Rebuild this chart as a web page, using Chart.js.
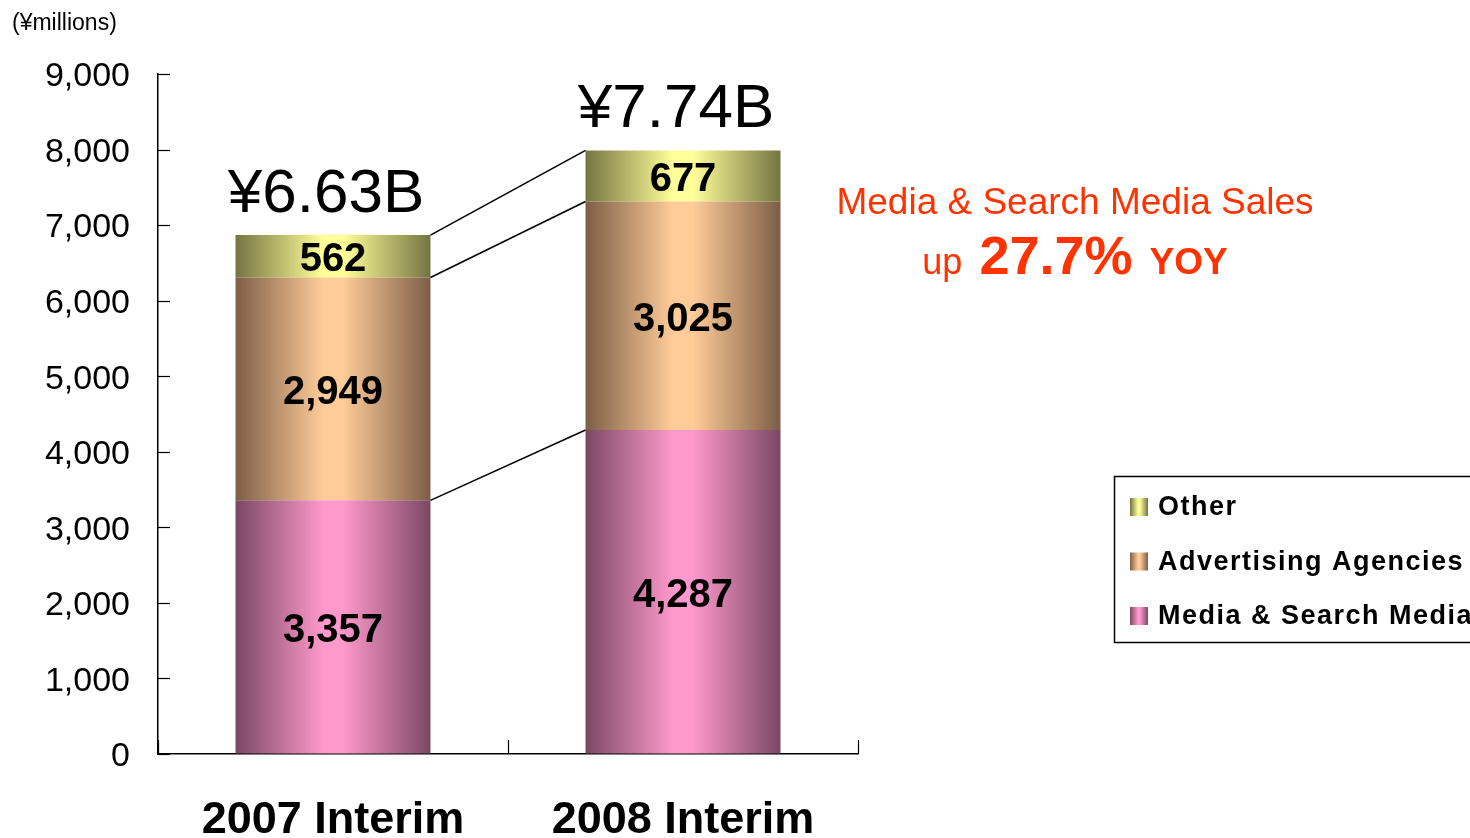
<!DOCTYPE html>
<html>
<head>
<meta charset="utf-8">
<title>Media & Search Media Sales</title>
<script src="https://cdn.jsdelivr.net/npm/chart.js@4.4.0/dist/chart.umd.min.js"></script>
<style>
  html, body { margin: 0; padding: 0; background: #fff; overflow: hidden; }
</style>
</head>
<body>
<canvas id="chart-sales" width="1470" height="838"></canvas>
<script>
// chart data
const categories = ["2007 Interim", "2008 Interim"];
const mediaSearch = [3357, 4287];
const adAgencies = [2949, 3025];
const otherSales = [562, 677];
const totalLabels = ["¥6.63B", "¥7.74B"];
const seriesNames = ["Media & Search Media", "Advertising Agencies", "Other"];
const yMax = 9000;
const yStep = 1000;
const unitLabel = "(¥millions)";
const noteLine1 = "Media & Search Media Sales";
const noteLine2 = ["up", "27.7%", "YOY"];

const BAR_PCT = 0.557;
const FONT = '"Liberation Sans", Arial, sans-serif';

// dark edge / light middle, like the original's cylinder shading
const shades = [
    { dark: "#7a4862", light: "#ff99cc" },
    { dark: "#7c5e46", light: "#ffcc99" },
    { dark: "#747443", light: "#ffff99" },
];

function makeGradient(c, x0, x1, shade) {
    const g = c.createLinearGradient(x0, 0, x1, 0);
    g.addColorStop(0, shade.dark);
    g.addColorStop(0.45, shade.light);
    g.addColorStop(0.55, shade.light);
    g.addColorStop(1, shade.dark);
    return g;
}

function barFill(idx) {
    return function (ctx) {
        const chart = ctx.chart;
        const xs = chart.scales.x;
        if (!xs || !chart.chartArea || ctx.dataIndex === undefined) {
            return shades[idx].light;
        }
        const cx = xs.getPixelForValue(ctx.dataIndex);
        const w = (xs.width / chart.data.labels.length) * BAR_PCT;
        return makeGradient(chart.ctx, cx - w / 2, cx + w / 2, shades[idx]);
    };
}

const extrasPlugin = {
    id: "extras",
    afterDatasetsDraw(chart) {
        const c = chart.ctx;
        const area = chart.chartArea;
        const xs = chart.scales.x;
        const ys = chart.scales.y;
        c.save();

        // inward tick marks
        c.strokeStyle = "#000";
        c.lineWidth = 1.2;
        ys.ticks.forEach(t => {
            const y = Math.round(ys.getPixelForValue(t.value)) + 0.5;
            c.beginPath();
            c.moveTo(area.left, y);
            c.lineTo(area.left + 12, y);
            c.stroke();
        });
        const n = chart.data.labels.length;
        for (let i = 0; i <= n; i++) {
            const x = Math.round(xs.left + (xs.width / n) * i) + 0.5;
            c.beginPath();
            c.moveTo(x, area.bottom);
            c.lineTo(x, area.bottom - 14);
            c.stroke();
        }

        // connector lines between the two stacks
        const metas = chart.data.datasets.map((d, i) => chart.getDatasetMeta(i));
        c.lineWidth = 1.6;
        metas.forEach(meta => {
            const a = meta.data[0], b = meta.data[1];
            c.beginPath();
            c.moveTo(a.x + a.width / 2, a.y);
            c.lineTo(b.x - b.width / 2, b.y);
            c.stroke();
        });

        // value labels inside segments
        c.fillStyle = "#000";
        c.textAlign = "center";
        c.textBaseline = "middle";
        c.font = "bold 40px " + FONT;
        metas.forEach((meta, di) => {
            meta.data.forEach((el, i) => {
                const v = chart.data.datasets[di].data[i];
                c.fillText(v.toLocaleString("en-US"), el.x, (el.y + el.base) / 2 + 4);
            });
        });

        // totals above stacks
        const top = metas[metas.length - 1];
        c.textBaseline = "alphabetic";
        c.font = "62px " + FONT;
        top.data.forEach((el, i) => {
            c.fillText(totalLabels[i], el.x - 7, el.y - 23);
        });

        // unit label
        c.textAlign = "left";
        c.font = "23px " + FONT;
        c.fillText(unitLabel, 12, 30);

        // red note
        c.fillStyle = "#ff3300";
        c.textAlign = "center";
        c.font = "37px " + FONT;
        c.fillText(noteLine1, 1075, 214);
        const parts = [
            { t: noteLine2[0], f: "36px " + FONT },
            { t: noteLine2[1], f: "bold 54px " + FONT },
            { t: noteLine2[2], f: "bold 37px " + FONT },
        ];
        const gap = 17;
        let total = 0;
        parts.forEach(p => { c.font = p.f; p.w = c.measureText(p.t).width; total += p.w; });
        total += gap * (parts.length - 1);
        let x = 1075 - total / 2;
        c.textAlign = "left";
        parts.forEach(p => {
            c.font = p.f;
            c.fillText(p.t, x, 274);
            x += p.w + gap;
        });

        // legend (top row = last dataset)
        c.strokeStyle = "#000";
        c.lineWidth = 1.5;
        c.strokeRect(1114.5, 476.5, 400, 166);
        c.fillStyle = "#000";
        c.font = "bold 27px " + FONT;
        c.letterSpacing = "1.5px";
        c.textBaseline = "middle";
        const ds = chart.data.datasets;
        for (let k = 0; k < ds.length; k++) {
            const di = ds.length - 1 - k;
            const cy = 507 + k * 54.5;
            c.fillStyle = makeGradient(c, 1130, 1148, shades[di]);
            c.fillRect(1130, cy - 9, 18, 18);
            c.fillStyle = "#000";
            c.fillText(ds[di].label, 1158, cy + 1);
        }
        c.restore();
    }
};

const ctx = document.getElementById("chart-sales").getContext("2d");
new Chart(ctx, {
    type: "bar",
    data: {
        labels: categories,
        datasets: [
            { label: seriesNames[0], data: mediaSearch, backgroundColor: barFill(0) },
            { label: seriesNames[1], data: adAgencies, backgroundColor: barFill(1) },
            { label: seriesNames[2], data: otherSales, backgroundColor: barFill(2) },
        ].map(d => Object.assign(d, {
            borderWidth: 0,
            barPercentage: BAR_PCT,
            categoryPercentage: 1.0,
        }))
    },
    options: {
        responsive: false,
        animation: false,
        events: [],
        layout: { padding: { left: 0, right: 612, top: 74, bottom: 0 } },
        plugins: {
            legend: { display: false },
            tooltip: { enabled: false },
        },
        scales: {
            x: {
                stacked: true,
                grid: { display: true, drawOnChartArea: false, drawTicks: false },
                border: { display: true, color: "#000", width: 1.5 },
                ticks: {
                    color: "#000",
                    padding: 40,
                    font: { family: FONT, size: 45, weight: "bold" },
                },
                afterFit(scale) { scale.height = 84; },
            },
            y: {
                stacked: true,
                min: 0,
                max: yMax,
                grid: { display: true, drawOnChartArea: false, drawTicks: false },
                border: { display: true, color: "#000", width: 1.5 },
                ticks: {
                    stepSize: yStep,
                    color: "#000",
                    padding: 28,
                    labelOffset: 3,
                    font: { family: FONT, size: 34 },
                    callback: v => v.toLocaleString("en-US"),
                },
                afterFit(scale) { scale.width = 158; },
            },
        },
    },
    plugins: [extrasPlugin],
});
</script>
</body>
</html>
